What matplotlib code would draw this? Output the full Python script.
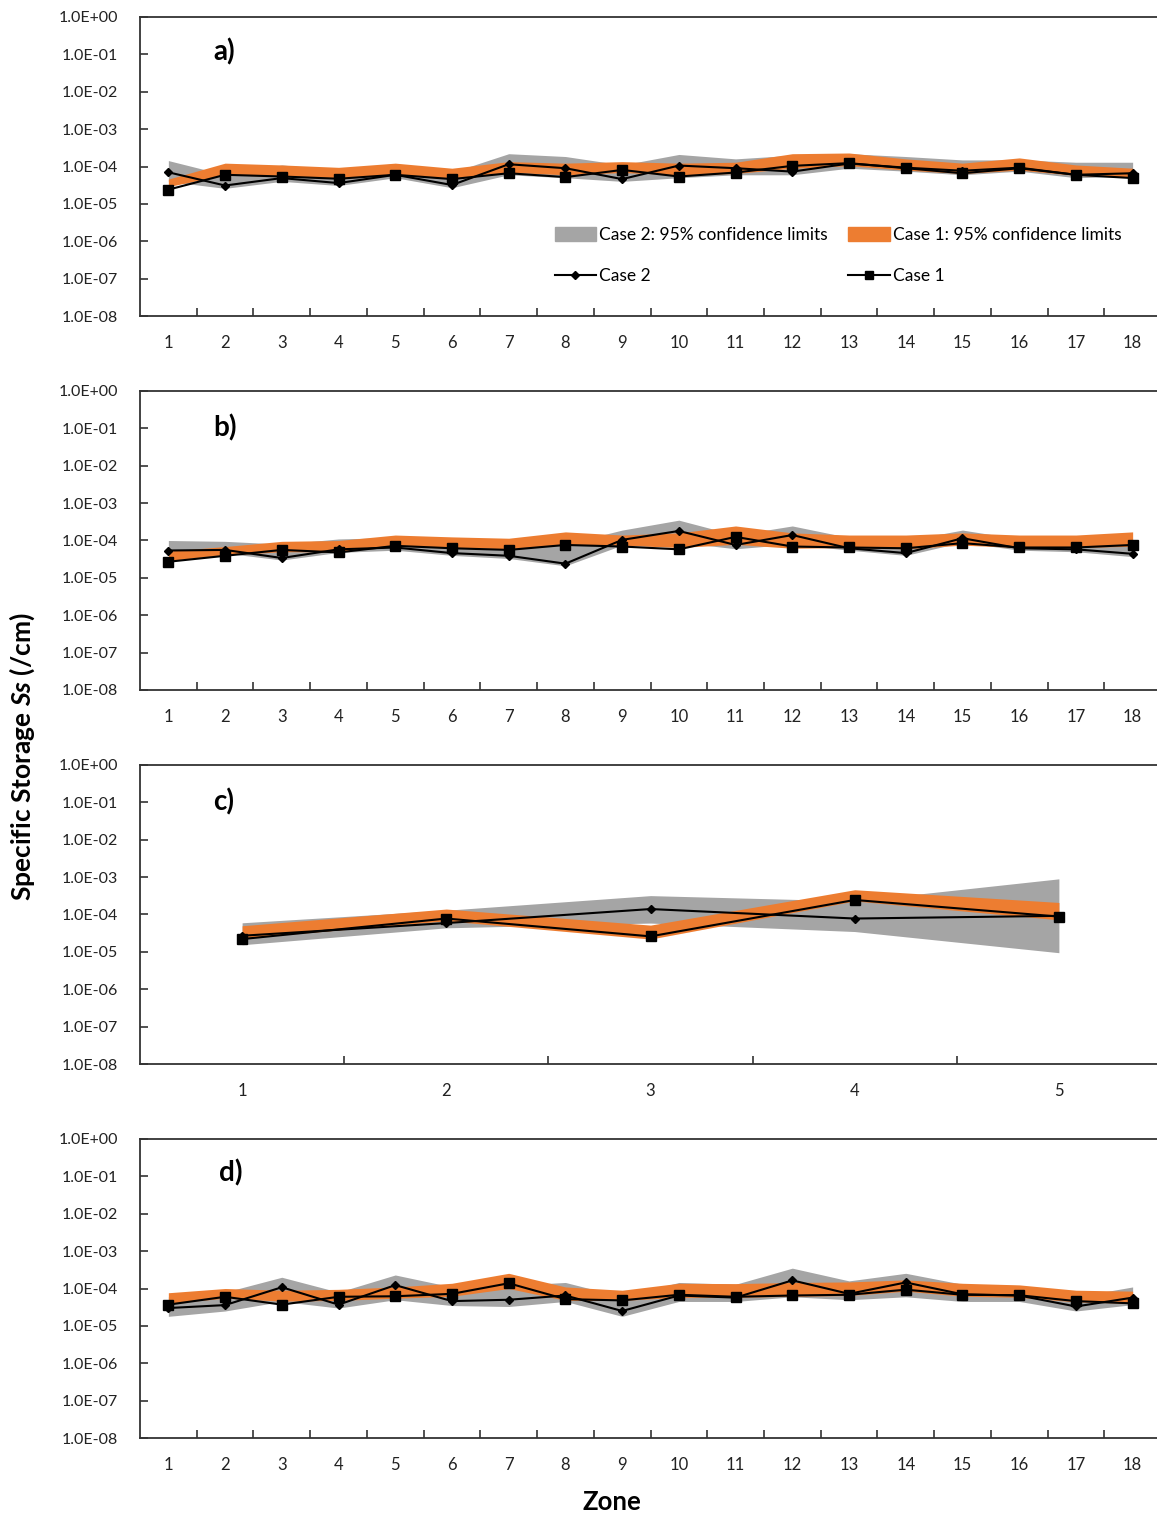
import matplotlib
matplotlib.use("Agg")
import matplotlib.pyplot as plt
from matplotlib.patches import Patch
from matplotlib.lines import Line2D
from matplotlib.ticker import FixedLocator, FuncFormatter, NullFormatter

plt.rcParams["font.family"] = ["Lato", "DejaVu Sans"]
plt.rcParams["mathtext.fontset"] = "custom"
plt.rcParams["mathtext.bfit"] = "Lato:italic:bold"

# ---- panel a) 18 zones ----
a_case2 = [7e-5, 3.1e-5, 4.9e-5, 3.6e-5, 6e-5, 3.2e-5, 1.15e-4, 9e-5, 4.6e-5,
           1.06e-4, 9e-5, 7.3e-5, 1.2e-4, 9.3e-5, 7.7e-5, 9.3e-5, 6e-5, 6.6e-5]
a_case1 = [2.4e-5, 6e-5, 5.4e-5, 4.7e-5, 6e-5, 4.6e-5, 6.6e-5, 5.2e-5, 8.1e-5,
           5.4e-5, 6.9e-5, 1.04e-4, 1.23e-4, 9e-5, 6.6e-5, 9e-5, 6e-5, 4.9e-5]
a_c1_lo = [2.9e-5, 6e-5, 5.4e-5, 4.9e-5, 6e-5, 4.9e-5, 7e-5, 6e-5, 6.9e-5,
           6e-5, 6.5e-5, 9e-5, 1.05e-4, 8e-5, 6.5e-5, 8e-5, 5.8e-5, 5e-5]
a_c1_hi = [4.6e-5, 1.23e-4, 1.1e-4, 9.5e-5, 1.23e-4, 9e-5, 1.35e-4, 1.23e-4, 1.35e-4,
           1.23e-4, 1.3e-4, 2.2e-4, 2.3e-4, 1.6e-4, 1.23e-4, 1.7e-4, 1.1e-4, 9e-5]
a_c2_lo = [4e-5, 2.6e-5, 4e-5, 3.1e-5, 5e-5, 2.7e-5, 6e-5, 5e-5, 4e-5,
           5e-5, 6e-5, 6e-5, 9e-5, 7.5e-5, 6e-5, 7.5e-5, 5e-5, 5.5e-5]
a_c2_hi = [1.44e-4, 6e-5, 1.1e-4, 8e-5, 1.2e-4, 7e-5, 2.2e-4, 1.85e-4, 1.1e-4,
           2.1e-4, 1.6e-4, 2e-4, 2.2e-4, 1.85e-4, 1.5e-4, 1.5e-4, 1.3e-4, 1.3e-4]

# ---- panel b) 18 zones ----
b_case2 = [5.4e-5, 5.6e-5, 3.4e-5, 5.8e-5, 6.5e-5, 4.6e-5, 3.9e-5, 2.4e-5, 1.04e-4,
           1.8e-4, 7.6e-5, 1.4e-4, 6.2e-5, 4.6e-5, 1.15e-4, 6.2e-5, 5.8e-5, 4.4e-5]
b_case1 = [2.7e-5, 3.9e-5, 5.6e-5, 4.8e-5, 7.2e-5, 6.2e-5, 5.6e-5, 7.6e-5, 6.9e-5,
           5.8e-5, 1.25e-4, 6.9e-5, 6.5e-5, 6.2e-5, 8.5e-5, 6.5e-5, 6.5e-5, 7.6e-5]
b_c1_lo = [2.9e-5, 4.1e-5, 5e-5, 5e-5, 7e-5, 6.5e-5, 6e-5, 7.9e-5, 7.5e-5,
           6.5e-5, 7.9e-5, 6.2e-5, 6.5e-5, 6e-5, 7.5e-5, 6.5e-5, 6.5e-5, 7e-5]
b_c1_hi = [5.2e-5, 6.9e-5, 9.5e-5, 1.0e-4, 1.4e-4, 1.25e-4, 1.15e-4, 1.7e-4, 1.4e-4,
           1.6e-4, 2.45e-4, 1.6e-4, 1.4e-4, 1.4e-4, 1.6e-4, 1.4e-4, 1.4e-4, 1.7e-4]
b_c2_lo = [4.5e-5, 4.6e-5, 3e-5, 4.8e-5, 5.5e-5, 4e-5, 3.3e-5, 2.1e-5, 7.5e-5,
           9e-5, 6e-5, 8e-5, 5.5e-5, 4e-5, 9e-5, 5.5e-5, 5e-5, 3.7e-5]
b_c2_hi = [1.0e-4, 9.5e-5, 8e-5, 1.1e-4, 1.2e-4, 1.0e-4, 9e-5, 8e-5, 1.9e-4,
           3.5e-4, 1.4e-4, 2.45e-4, 1.2e-4, 1.0e-4, 1.9e-4, 1.1e-4, 1.1e-4, 1.1e-4]

# ---- panel c) 5 zones ----
c_case2 = [2.7e-5, 5.9e-5, 1.4e-4, 7.8e-5, 9.2e-5]
c_case1 = [2.2e-5, 7.8e-5, 2.6e-5, 2.45e-4, 8.8e-5]
c_c1_lo = [2.3e-5, 6.8e-5, 2.2e-5, 2.3e-4, 7.2e-5]
c_c1_hi = [5e-5, 1.4e-4, 5.2e-5, 4.6e-4, 2.1e-4]
c_c2_lo = [1.55e-5, 4.4e-5, 5.9e-5, 3.5e-5, 9.5e-6]
c_c2_hi = [6e-5, 1.3e-4, 3.2e-4, 2.3e-4, 9e-4]

# ---- panel d) 18 zones ----
d_case2 = [3e-5, 3.6e-5, 1.08e-4, 3.7e-5, 1.23e-4, 4.6e-5, 5e-5, 6.5e-5, 2.5e-5,
           6.5e-5, 5.7e-5, 1.65e-4, 7.2e-5, 1.45e-4, 7e-5, 6.5e-5, 3.3e-5, 5.7e-5]
d_case1 = [3.7e-5, 6e-5, 3.7e-5, 6e-5, 6.2e-5, 7.2e-5, 1.38e-4, 5.2e-5, 4.8e-5,
           6.8e-5, 6e-5, 6.5e-5, 6.8e-5, 9.3e-5, 6.8e-5, 6.6e-5, 4.6e-5, 4e-5]
d_c1_lo = [4e-5, 5.5e-5, 4.6e-5, 4.8e-5, 5.5e-5, 6.2e-5, 1.0e-4, 4.8e-5, 4.8e-5,
           5.8e-5, 5.8e-5, 6.2e-5, 6.5e-5, 8.5e-5, 6.2e-5, 5.8e-5, 4.4e-5, 4e-5]
d_c1_hi = [7.7e-5, 1.0e-4, 9e-5, 9.5e-5, 1.1e-4, 1.38e-4, 2.55e-4, 1.1e-4, 9e-5,
           1.38e-4, 1.35e-4, 1.45e-4, 1.5e-4, 1.7e-4, 1.38e-4, 1.25e-4, 9e-5, 8.5e-5]
d_c2_lo = [1.8e-5, 2.5e-5, 4.5e-5, 3e-5, 5e-5, 3.5e-5, 3.3e-5, 4.5e-5, 1.8e-5,
           4.5e-5, 4.5e-5, 6e-5, 5e-5, 6e-5, 4.5e-5, 4.5e-5, 2.5e-5, 3.7e-5]
d_c2_hi = [6e-5, 8e-5, 2e-4, 8e-5, 2.3e-4, 1.1e-4, 1.2e-4, 1.45e-4, 6e-5,
           1.45e-4, 1.3e-4, 3.5e-4, 1.6e-4, 2.55e-4, 1.3e-4, 1.2e-4, 6e-5, 1.1e-4]

PANELS = [
    ("a)", a_case2, a_case1, a_c1_lo, a_c1_hi, a_c2_lo, a_c2_hi),
    ("b)", b_case2, b_case1, b_c1_lo, b_c1_hi, b_c2_lo, b_c2_hi),
    ("c)", c_case2, c_case1, c_c1_lo, c_c1_hi, c_c2_lo, c_c2_hi),
    ("d)", d_case2, d_case1, d_c1_lo, d_c1_hi, d_c2_lo, d_c2_hi),
]
YTICKS = [10.0 ** -k for k in range(0, 9)]
GRAY, ORANGE = "#a5a5a5", "#ed7d31"

W, H = 1157, 1517
fig = plt.figure(figsize=(W / 100, H / 100), dpi=100)
tops = [17, 391, 765, 1139]
left, right, ph = 140, 1161, 299
label_pos = [(213, 52), (213, 428), (213, 802), (219, 1173)]

for i, (lab, c2, c1, c1lo, c1hi, c2lo, c2hi) in enumerate(PANELS):
    top = tops[i]
    ax = fig.add_axes([left / W, 1 - (top + ph) / H, (right - left) / W, ph / H])
    n = len(c2)
    x = list(range(1, n + 1))
    ax.fill_between(x, c2lo, c2hi, color=GRAY, lw=0, zorder=1)
    ax.fill_between(x, c1lo, c1hi, color=ORANGE, lw=0, zorder=2)
    ax.plot(x, c2, color="black", lw=1.5, marker="D", ms=4.5, zorder=3)
    ax.plot(x, c1, color="black", lw=1.5, marker="s", ms=7.5, zorder=4)
    ax.set_yscale("log")
    ax.set_ylim(1e-8, 1)
    ax.set_xlim(0.5, n + 0.5)
    ax.yaxis.set_major_locator(FixedLocator(YTICKS))
    ax.yaxis.set_minor_locator(FixedLocator([]))
    ax.yaxis.set_major_formatter(FuncFormatter(lambda v, p: f"{v:.1E}"))
    ax.set_xticks(x)
    ax.set_xticks([k + 0.5 for k in range(1, n)], minor=True)
    ax.xaxis.set_minor_formatter(NullFormatter())
    ax.tick_params(axis="x", which="major", length=0, pad=14, labelsize=12, colors="#222222")
    ax.tick_params(axis="x", which="minor", direction="in", length=6, width=1.2, color="#333333")
    ax.tick_params(axis="y", which="major", direction="in", length=6, width=1.2,
                   pad=16, labelsize=11.5, color="#333333", labelcolor="#222222")
    for s in ax.spines.values():
        s.set_linewidth(1.3)
        s.set_color("#333333")
    fig.text(label_pos[i][0] / W, 1 - label_pos[i][1] / H, lab, fontsize=20,
             fontweight="bold", va="center", ha="left")
    if i == 0:
        handles = [Patch(color=GRAY),
                   Line2D([], [], color="black", lw=1.5, marker="D", ms=4),
                   Patch(color=ORANGE),
                   Line2D([], [], color="black", lw=1.5, marker="s", ms=6)]
        labels = ["Case 2: 95% confidence limits", "Case 2",
                  "Case 1: 95% confidence limits", "Case 1"]
        ax.legend(handles, labels, ncol=2, frameon=False, fontsize=12.5,
                  loc="upper left", bbox_to_anchor=(0.406, 0.298),
                  handlelength=2.4, handleheight=0.9, handletextpad=0.15,
                  columnspacing=1.2, labelspacing=1.45, borderaxespad=0,
                  borderpad=0)

fig.text(22 / W, 1 - 757 / H, "Specific Storage $\\mathbfit{Ss}$ (/cm)", rotation=90,
         fontsize=19, fontweight="bold", ha="center", va="center")
fig.text(612 / W, 1 - 1502 / H, "Zone", fontsize=18.5, fontweight="bold",
         ha="center", va="center")

fig.savefig("out.png", dpi=100)
